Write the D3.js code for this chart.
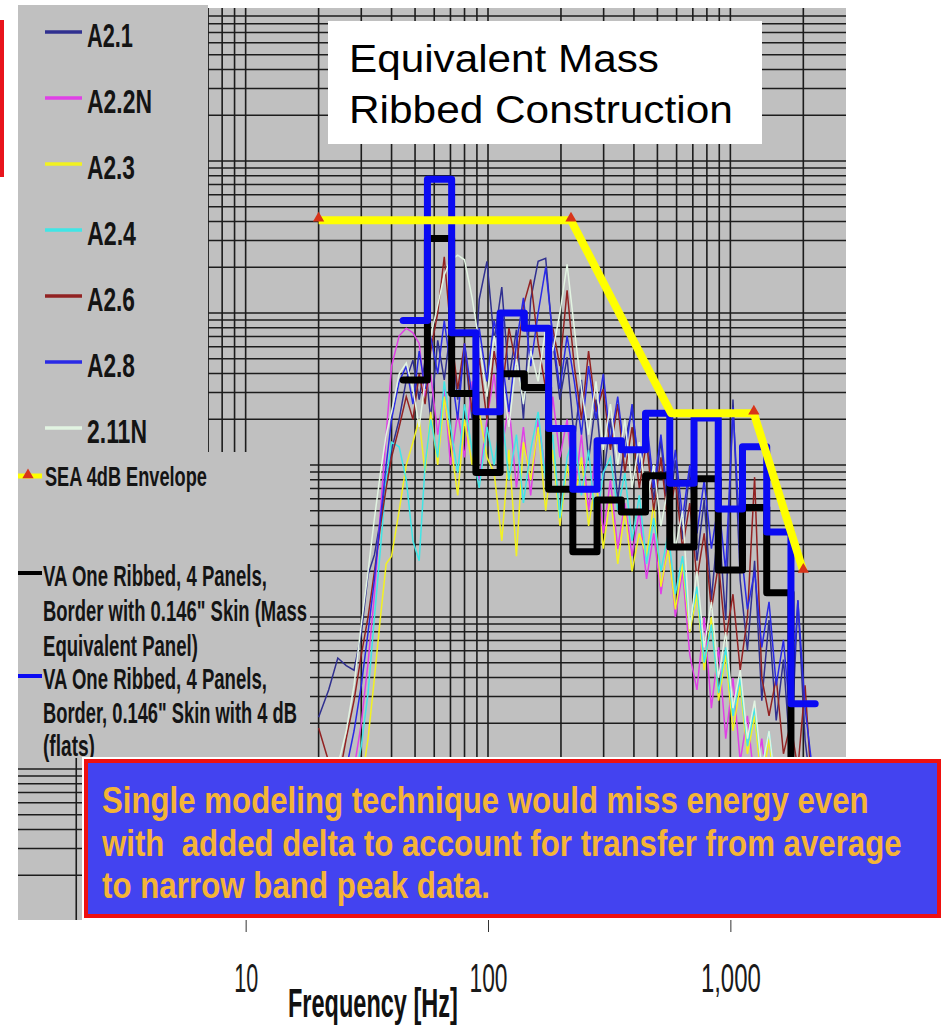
<!DOCTYPE html>
<html>
<head>
<meta charset="utf-8">
<script src="https://cdn.jsdelivr.net/npm/d3@7/dist/d3.min.js"></script>
<style>
  body { margin: 0; background: #fff; }
  svg { display: block; }
</style>
</head>
<body>
<div id="chart"></div>
<script>
// narrow band spectra, levels in dB re 1 g^2/Hz
let nbFreq = [20, 22, 24, 26, 28, 30, 32, 34, 36, 38,
  40, 43, 46, 49, 52, 55, 58, 62, 66, 70,
  75, 80, 86, 92, 99, 106, 114, 122, 131, 140,
  150, 161, 173, 185, 198, 212, 227, 243, 260, 279,
  299, 320, 343, 367, 393, 421, 451, 483, 517, 554,
  593, 635, 680, 728, 780, 835, 894, 957, 1025, 1098,
  1176, 1259, 1348, 1444, 1546, 1656, 1773, 1899, 2034, 2178,
  2332]

let a21 = [-46.6, -44.8, -42.7, -43.2, -43.5, -41.1, -37.2, -35.9, -33.6, -31.0,
  -29.0, -27.0, -24.4, -23.1, -25.7, -23.1, -27.0, -21.8, -24.4, -21.1,
  -25.7, -22.4, -27.0, -19.1, -16.6, -21.8, -18.3, -24.4, -21.1, -27.0,
  -19.1, -16.6, -16.4, -21.8, -25.7, -22.9, -28.4, -24.4, -29.7, -25.7,
  -31.0, -27.0, -32.3, -28.4, -26.4, -30.3, -27.7, -32.3, -28.4, -33.6,
  -29.7, -34.9, -30.3, -36.3, -32.3, -38.9, -33.6, -40.2, -25.7, -37.6,
  -42.2, -36.3, -45.5, -40.2, -46.8, -42.8, -49.4, -38.9, -48.1, -52.0,
  -56.0]

let a22n = [-56, -55, -54, -52, -50, -47, -43, -38.5, -33, -28,
  -23.5, -21.5, -21.0, -21.3, -22.0, -25.5, -24.0, -28.0, -25.0, -30.0,
  -26.5, -29.5, -24.5, -31.0, -27.0, -24.0, -29.0, -26.0, -31.5, -27.5,
  -32.0, -27.0, -30.5, -25.5, -29.5, -27.0, -32.0, -28.0, -33.0, -29.0,
  -34.5, -31.0, -35.5, -32.5, -36.0, -33.0, -37.5, -34.5, -38.5, -35.0,
  -40.0, -37.0, -42.5, -44.8, -40.0, -46.0, -42.0, -48.0, -44.0, -49.5,
  -46.5, -51.0, -48.0, -52.5, -50.0, -54.0, -51.5, -55.0, -53.0, -57.0,
  -58.0]

let a23 = [-57, -56, -55.5, -55, -53, -51, -48, -44, -40, -36.5,
  -36, -33, -30, -28.5, -27, -30.5, -26.5, -30, -25.5, -28.5,
  -32, -27, -30, -26.5, -29.5, -30.5, -35.0, -29.0, -36.0, -28.5,
  -31, -27.5, -33, -29, -34, -30, -32.5, -29.5, -34, -31,
  -35.5, -32, -36.5, -33, -37, -34.5, -36, -32.5, -38, -35.5,
  -39.5, -36.5, -41, -38.5, -43.5, -40, -45.5, -42.5, -47.5, -44.5,
  -49, -46.5, -51, -48, -52.5, -50, -54.5, -52, -56, -58,
  -59]

let a24 = [-57, -56, -55, -53, -51, -48.5, -45, -40, -35.5, -31,
  -28.5, -28.8, -31, -35, -36.3, -30, -27, -29.5, -24.5, -27.5,
  -30.5, -26, -29, -31.5, -27.5, -30, -26.5, -31, -28, -32.5,
  -29, -26.5, -31, -28, -33.5, -29.5, -28, -32, -29, -34,
  -30.5, -29.5, -33, -30.5, -35, -32, -36.5, -33.5, -37, -34.5,
  -38.5, -36, -40.5, -38, -43, -40.5, -45, -42, -46.5, -44,
  -48.5, -46, -50, -47.5, -51.5, -49.5, -53, -51, -55, -57,
  -58]

let a26 = [-47.3, -49.5, -51, -48, -45.5, -42.5, -40, -37, -34, -31.5,
  -29.5, -27.5, -25.5, -27, -24, -26, -22.5, -20, -16.3, -21,
  -25, -22, -26.5, -23, -27, -22.5, -25.5, -21, -23.5, -19.5,
  -17.8, -22, -25, -21, -23.5, -18.5, -23.5, -27, -22.5, -26.5,
  -25, -29, -26, -30.5, -27.5, -31.5, -28.5, -33, -29.5, -34,
  -31, -35.5, -32.5, -37.5, -34.5, -39.5, -36.5, -41.5, -38.5, -43.5,
  -40, -30.8, -44, -46.5, -44, -49, -47, -50, -44.5, -52,
  -56]

let a28 = [-55, -54, -52, -50, -47.5, -44.5, -41, -37.5, -33.5, -30,
  -27, -24.5, -23.5, -26, -22.5, -25, -21.5, -24, -20.5, -23.5,
  -27, -22, -25.5, -21, -24.5, -20.5, -23, -26.5, -22, -19,
  -23.5, -20, -17, -21.5, -25, -21.5, -24.5, -28, -23.5, -27,
  -24, -28.5, -25.5, -29.5, -26, -30.5, -27, -31.5, -28, -32.5,
  -29, -33.5, -30, -34.5, -31, -35.5, -32.5, -37, -26.2, -35,
  -39.5, -37, -42, -39, -44.5, -41.5, -47, -38.9, -46, -50,
  -54]

let a211n = [-57, -53.5, -49.8, -47.5, -44.5, -40.5, -37, -33.5, -30.5, -28,
  -26.5, -24, -23.3, -25, -27.5, -24.5, -21.5, -19.5, -17.5, -16.5,
  -16.2, -16.5, -19, -22, -25.5, -21.5, -24, -27.5, -23, -26,
  -22.5, -24.5, -21, -22.5, -20, -16.8, -21, -25, -28, -24.5,
  -29, -26, -30, -27, -31.5, -28.5, -32.5, -30, -34, -31.5,
  -35.5, -33, -40.8, -37, -42, -39, -44, -41, -46, -43.5,
  -48, -45.5, -50, -47.5, -51.5, -49.5, -53, -51, -55, -57,
  -58]

let seriesNames = ["A2.1", "A2.2N", "A2.3", "A2.4", "A2.6", "A2.8", "2.11N"]
let seriesColors = ["#303090", "#e040e6", "#f2f220", "#40e6e6", "#922222", "#2a2ae6", "#e2f4e2"]

// VA One 1/3 octave band results, dB re 1 g^2/Hz
let bandCenters = [50, 63, 80, 100, 125, 160, 200, 250, 315, 400, 500, 630, 800, 1000, 1250, 1600, 2000]
let vaMassEquiv = [-24.4, -15.1, -25.3, -30.5, -24.0, -24.9, -31.6, -35.7, -32.3, -33.1, -30.7, -35.4, -30.9, -36.9, -32.8, -38.4, -52.0]
let vaFlats = [-20.5, -11.2, -21.3, -26.5, -20.0, -21.0, -27.6, -31.6, -28.4, -29.0, -26.6, -31.2, -26.9, -32.9, -28.8, -34.4, -45.7]

// SEA 4 dB envelope
let seaFreq = [20, 220, 570, 1250, 2000]
let seaLevel = [-13.9, -13.9, -26.6, -26.6, -37.0]

let xTicks = [10, 100, 1000]
let xTickLabels = ["10", "100", "1,000"]

let vaBlackText = ["VA One Ribbed, 4 Panels,", "Border with 0.146\" Skin (Mass", "Equivalent Panel)"]
let vaBlueText = ["VA One Ribbed, 4 Panels,", "Border, 0.146\" Skin with 4 dB", "(flats)"]
let noteText = ["Single modeling technique would miss energy even",
  "with  added delta to account for transfer from average",
  "to narrow band peak data."]

let svgW = 943
let svgH = 1026
let plot = { left: 18, right: 846, top: 8, bottom: 920 }
let gray = "#c0c0c0"
let narrow = "'Liberation Sans Narrow','Arial Narrow','Liberation Sans',Arial,sans-serif"
let sans = "'Liberation Sans',Arial,sans-serif"

let dbToPsd = db => Math.pow(10, db / 10)

let x = d3.scaleLog()
  .domain([1.15, 3000])
  .range([plot.left, plot.right])

let y = d3.scaleLog()
  .domain([1e-6, 1])
  .range([921, 9])

let svg = d3.select("#chart")
  .append("svg")
  .attr("width", svgW)
  .attr("height", svgH)

// text squeezed to the width it has in the picture
function label(parent, str, x0, y0, w, size, weight, color, family) {
  let t = parent.append("text")
    .attr("font-family", family || narrow)
    .attr("font-weight", weight)
    .attr("font-size", size)
    .attr("fill", color)
    .style("white-space", "pre")
    .text(str)
  let n = t.node().getComputedTextLength()
  t.attr("transform", `translate(${x0},${y0}) scale(${w / n},1)`)
  return t
}

svg.append("defs").append("clipPath")
  .attr("id", "plotclip")
  .append("rect")
  .attr("x", plot.left)
  .attr("y", plot.top)
  .attr("width", plot.right - plot.left)
  .attr("height", plot.bottom - plot.top)

svg.append("rect")
  .attr("x", plot.left)
  .attr("y", plot.top)
  .attr("width", plot.right - plot.left)
  .attr("height", plot.bottom - plot.top)
  .attr("fill", gray)

// grid
let grid = svg.append("g").attr("stroke", "#1c1c1c").attr("stroke-width", 1.6)
grid.selectAll(".vg")
  .data(x.ticks().filter(d => d < 2900))
  .enter()
  .append("line")
  .attr("x1", d => x(d)).attr("x2", d => x(d))
  .attr("y1", plot.top).attr("y2", plot.bottom)
grid.selectAll(".hg")
  .data(y.ticks().filter(d => d < 0.99 && d > 1.01e-6))
  .enter()
  .append("line")
  .attr("x1", plot.left).attr("x2", plot.right)
  .attr("y1", d => y(d)).attr("y2", d => y(d))

let dataG = svg.append("g").attr("clip-path", "url(#plotclip)")

let line = d3.line()
  .x(d => x(d[0]))
  .y(d => y(dbToPsd(d[1])))

let series = [a21, a22n, a23, a24, a26, a28, a211n]
dataG.selectAll(".nb")
  .data(series)
  .enter()
  .append("path")
  .attr("d", s => line(s.map((v, i) => [nbFreq[i], v])))
  .attr("fill", "none")
  .attr("stroke", (s, i) => seriesColors[i])
  .attr("stroke-width", 1.5)

function bandSteps(levels) {
  let pts = []
  bandCenters.forEach((fc, i) => {
    let n = Math.round(10 * Math.log10(fc))
    pts.push([Math.pow(10, (n - 0.5) / 10), levels[i]])
    pts.push([Math.pow(10, (n + 0.5) / 10), levels[i]])
  })
  return pts
}

dataG.append("path")
  .attr("d", line(bandSteps(vaMassEquiv)))
  .attr("fill", "none")
  .attr("stroke", "#000")
  .attr("stroke-width", 7)
  .attr("stroke-linejoin", "round")
  .attr("stroke-linecap", "round")

dataG.append("path")
  .attr("d", line(bandSteps(vaFlats)))
  .attr("fill", "none")
  .attr("stroke", "#0a0af2")
  .attr("stroke-width", 7)
  .attr("stroke-linejoin", "round")
  .attr("stroke-linecap", "round")

let seaPts = seaFreq.map((f, i) => [f, seaLevel[i]])
dataG.append("path")
  .attr("d", line(seaPts))
  .attr("fill", "none")
  .attr("stroke", "#ffff00")
  .attr("stroke-width", 8)
  .attr("stroke-linejoin", "round")

let tri = d3.symbol().type(d3.symbolTriangle).size(55)
dataG.selectAll(".mk")
  .data(seaPts.filter((d, i) => i !== 2))
  .enter()
  .append("path")
  .attr("d", tri)
  .attr("transform", d => `translate(${x(d[0])},${y(dbToPsd(d[1])) - 2})`)
  .attr("fill", "#d8341a")

// legend panels
svg.append("rect").attr("x", 18).attr("y", 5).attr("width", 190).attr("height", 450).attr("fill", gray)
svg.append("rect").attr("x", 18).attr("y", 452).attr("width", 292).attr("height", 306).attr("fill", gray)
svg.append("rect").attr("x", 0).attr("y", 20).attr("width", 4).attr("height", 157).attr("fill", "#e8141c")

let legend = svg.append("g")
let nameW = [46, 65, 48, 49, 48, 48, 60]
seriesNames.forEach((name, i) => {
  let by = 47 + 66 * i
  legend.append("line")
    .attr("x1", 45).attr("x2", 82)
    .attr("y1", by - 15).attr("y2", by - 15)
    .attr("stroke", seriesColors[i])
    .attr("stroke-width", 3.5)
  label(legend, name, 87, by, nameW[i], 33, "bold", "#141414")
})

legend.append("line").attr("x1", 18).attr("x2", 42).attr("y1", 476).attr("y2", 476)
  .attr("stroke", "#ffff00").attr("stroke-width", 5)
legend.append("path").attr("d", tri).attr("transform", "translate(28,475)").attr("fill", "#d8341a")
label(legend, "SEA 4dB Envelope", 45, 486, 162, 28, "bold", "#141414")

legend.append("line").attr("x1", 18).attr("x2", 42).attr("y1", 573).attr("y2", 573)
  .attr("stroke", "#000").attr("stroke-width", 4)
legend.append("line").attr("x1", 18).attr("x2", 42).attr("y1", 676).attr("y2", 676)
  .attr("stroke", "#0a0af2").attr("stroke-width", 4)

let vaWidths = [224, 264, 155, 224, 254, 52]
let vaBase = [586, 621, 656, 689, 723, 756]
vaBlackText.concat(vaBlueText).forEach((t, i) => {
  label(legend, t, 43, vaBase[i], vaWidths[i], 29, "bold", "#141414")
})

// title box
svg.append("rect").attr("x", 328).attr("y", 21).attr("width", 434).attr("height", 123).attr("fill", "#fff")
label(svg, "Equivalent Mass", 349, 72, 310, 38, "normal", "#000", sans)
label(svg, "Ribbed Construction", 349, 123, 384, 38, "normal", "#000", sans)

// callout
svg.append("rect").attr("x", 82).attr("y", 757).attr("width", 861).attr("height", 163).attr("fill", "#fff")
svg.append("rect").attr("x", 86).attr("y", 761).attr("width", 853).attr("height", 155)
  .attr("fill", "#4343f0").attr("stroke", "#ee1010").attr("stroke-width", 4)
let noteW = [767, 800, 388]
let noteBase = [813, 856, 898]
noteText.forEach((t, i) => {
  label(svg, t, 102, noteBase[i], noteW[i], 37, "bold", "#f4b437")
})

// x axis
let xAxis = d3.axisBottom(x)
  .tickValues(xTicks)
  .tickFormat((d, i) => xTickLabels[i])
  .tickSize(12)

let axisG = svg.append("g")
  .attr("transform", `translate(0,${plot.bottom})`)
  .call(xAxis)
axisG.select(".domain").remove()
axisG.selectAll(".tick line").attr("stroke", "#333")
let tickW = [24, 38, 60]
axisG.selectAll(".tick text")
  .attr("y", 0).attr("dy", 0)
  .attr("font-family", narrow).attr("font-size", 40).attr("fill", "#1a1a1a")
  .each(function (d, i) {
    let n = this.getComputedTextLength()
    d3.select(this).attr("transform", `translate(0,72) scale(${tickW[i] / n},1)`)
  })

label(svg, "Frequency [Hz]", 288, 1017, 170, 40, "bold", "#111")
</script>
</body>
</html>
